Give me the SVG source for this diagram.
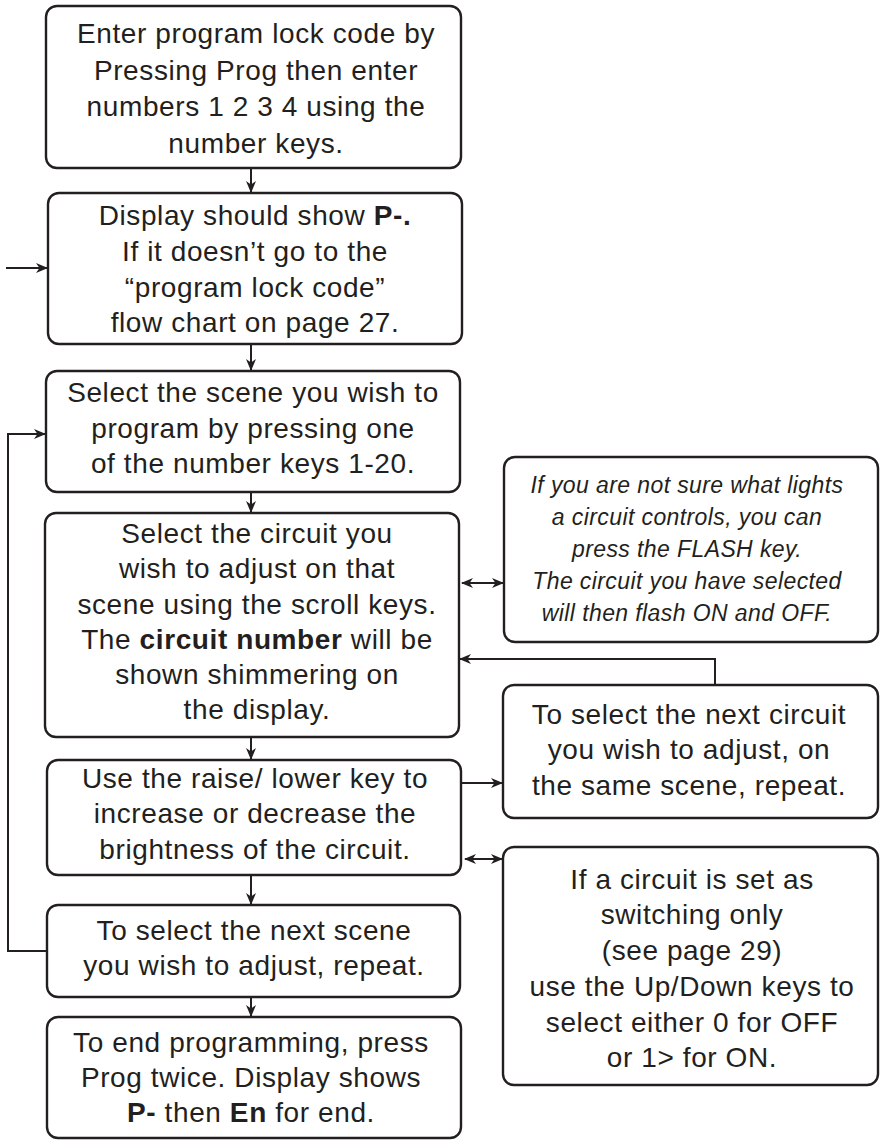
<svg xmlns="http://www.w3.org/2000/svg" width="880" height="1141" viewBox="0 0 880 1141">
<style>
.box{fill:#fff;stroke:#231f20;stroke-width:2.4}
.t{font-family:"Liberation Sans",Arial,Helvetica,sans-serif;font-size:28px;fill:#231f20;text-anchor:middle;letter-spacing:0.6px}
.i{font-family:"Liberation Sans",Arial,Helvetica,sans-serif;font-size:23px;font-style:italic;fill:#231f20;text-anchor:middle;letter-spacing:0.4px}
.b{font-weight:bold}
.c{fill:none;stroke:#231f20;stroke-width:2}
</style>
<defs>
<marker id="ah" viewBox="0 0 12 10" refX="11" refY="5" markerWidth="12" markerHeight="10" markerUnits="userSpaceOnUse" orient="auto-start-reverse">
<path d="M0,0 L12,5 L0,10 L3.5,5 z" fill="#231f20"/>
</marker>
</defs>
<rect width="880" height="1141" fill="#fff"/>
<g id="connectors">
<line class="c" x1="251" y1="168" x2="251" y2="192" marker-end="url(#ah)"/>
<line class="c" x1="251" y1="344" x2="251" y2="370" marker-end="url(#ah)"/>
<line class="c" x1="251" y1="492" x2="251" y2="512" marker-end="url(#ah)"/>
<line class="c" x1="251" y1="737" x2="251" y2="759" marker-end="url(#ah)"/>
<line class="c" x1="251" y1="875" x2="251" y2="904" marker-end="url(#ah)"/>
<line class="c" x1="251" y1="997" x2="251" y2="1016" marker-end="url(#ah)"/>
<line class="c" x1="6" y1="268" x2="47" y2="268" marker-end="url(#ah)"/>
<polyline class="c" points="47,951 8,951 8,434 45,434" marker-end="url(#ah)"/>
<line class="c" x1="462" y1="583" x2="503" y2="583" marker-start="url(#ah)" marker-end="url(#ah)"/>
<polyline class="c" points="715,685 715,659 460,659" marker-end="url(#ah)"/>
<line class="c" x1="461" y1="783" x2="502" y2="783" marker-end="url(#ah)"/>
<line class="c" x1="465" y1="859" x2="502" y2="859" marker-start="url(#ah)" marker-end="url(#ah)"/>
</g>
<g id="n1">
<rect class="box" x="46" y="6" width="415" height="162" rx="11"/>
<text class="t" x="256" y="43">Enter program lock code by</text>
<text class="t" x="256" y="80">Pressing Prog  then enter</text>
<text class="t" x="256" y="116">numbers 1 2 3 4 using the</text>
<text class="t" x="256" y="153">number keys.</text>
</g>
<g id="n2">
<rect class="box" x="48" y="193" width="414" height="151" rx="11"/>
<text class="t" x="255" y="225">Display should show <tspan class="b">P-.</tspan></text>
<text class="t" x="255" y="261">If it doesn’t go to the</text>
<text class="t" x="255" y="297">“program lock code”</text>
<text class="t" x="255" y="332">flow chart on page 27.</text>
</g>
<g id="n3">
<rect class="box" x="46" y="371" width="414" height="121" rx="11"/>
<text class="t" x="253" y="402">Select the scene you wish to</text>
<text class="t" x="253" y="438">program by pressing one</text>
<text class="t" x="253" y="473">of the number keys 1-20.</text>
</g>
<g id="n4">
<rect class="box" x="45" y="513" width="414" height="224" rx="11"/>
<text class="t" x="257" y="543">Select the circuit you</text>
<text class="t" x="257" y="578">wish to adjust on that</text>
<text class="t" x="257" y="614">scene using the scroll keys.</text>
<text class="t" x="257" y="649">The <tspan class="b">circuit number</tspan> will be</text>
<text class="t" x="257" y="684">shown shimmering on</text>
<text class="t" x="257" y="719">the display.</text>
</g>
<g id="n5">
<rect class="box" x="47" y="760" width="414" height="115" rx="11"/>
<text class="t" x="255" y="788">Use the raise/ lower key to</text>
<text class="t" x="255" y="823">increase or decrease the</text>
<text class="t" x="255" y="859">brightness of the circuit.</text>
</g>
<g id="n6">
<rect class="box" x="47" y="905" width="413" height="92" rx="11"/>
<text class="t" x="254" y="940">To select the next scene</text>
<text class="t" x="254" y="975">you wish to adjust, repeat.</text>
</g>
<g id="n7">
<rect class="box" x="47" y="1017" width="414" height="121" rx="11"/>
<text class="t" x="251" y="1052">To end programming, press</text>
<text class="t" x="251" y="1087">Prog twice. Display shows</text>
<text class="t" x="251" y="1122"><tspan class="b">P-</tspan> then <tspan class="b">En</tspan> for end.</text>
</g>
<g id="n8">
<rect class="box" x="504" y="457" width="374" height="185" rx="11"/>
<text class="i" x="687" y="493">If you are not sure what lights</text>
<text class="i" x="687" y="525">a circuit controls, you can</text>
<text class="i" x="687" y="557">press the FLASH key.</text>
<text class="i" x="687" y="589">The circuit you have selected</text>
<text class="i" x="687" y="621">will then flash ON and OFF.</text>
</g>
<g id="n9">
<rect class="box" x="503" y="685" width="375" height="133" rx="11"/>
<text class="t" x="689" y="724">To select the next circuit</text>
<text class="t" x="689" y="759">you wish to adjust, on</text>
<text class="t" x="689" y="795">the same scene, repeat.</text>
</g>
<g id="n10">
<rect class="box" x="503" y="847" width="375" height="238" rx="11"/>
<text class="t" x="692" y="889">If a circuit is set as</text>
<text class="t" x="692" y="924">switching only</text>
<text class="t" x="692" y="960">(see page 29)</text>
<text class="t" x="692" y="996">use the Up/Down keys to</text>
<text class="t" x="692" y="1032">select either 0 for OFF</text>
<text class="t" x="692" y="1067">or 1&gt; for ON.</text>
</g>
</svg>
